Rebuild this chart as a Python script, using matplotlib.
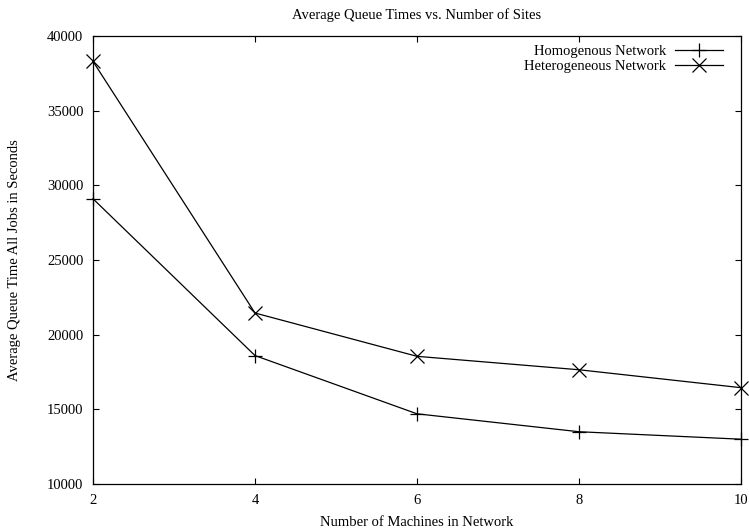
import matplotlib
matplotlib.use("Agg")
import matplotlib.pyplot as plt

machines = [2, 4, 6, 8, 10]
homogenous = [29100, 18600, 14700, 13500, 13000]
heterogeneous = [38300, 21450, 18550, 17650, 16450]
xticks = [2, 4, 6, 8, 10]
yticks = [10000, 15000, 20000, 25000, 30000, 35000, 40000]

W, H = 749, 532
plt.rcParams['font.family'] = ['Liberation Serif', 'DejaVu Serif']
fig = plt.figure(figsize=(W / 100, H / 100), dpi=100)
ax = fig.add_axes([93 / W, 1 - 484 / H, (741 - 93) / W, (484 - 36) / H])

ax.plot(machines, homogenous, color='black', lw=0.9, marker='+', ms=9.5,
        mew=0.9, label='Homogenous Network', clip_on=False)
ax.plot(machines, heterogeneous, color='black', lw=0.9, marker='x', ms=9.5,
        mew=0.9, label='Heterogeneous Network', clip_on=False)

ax.set_xlim(2, 10)
ax.set_ylim(10000, 40000)
ax.set_xticks(xticks)
ax.set_yticks(yticks)
ax.tick_params(direction='in', top=True, right=True, length=4.5, width=0.8,
               labelsize=10.5, pad=7)
for s in ax.spines.values():
    s.set_linewidth(0.9)

ax.set_title('Average Queue Times vs. Number of Sites', fontsize=10.5, pad=12.5)
ax.set_xlabel('Number of Machines in Network', fontsize=10.5, labelpad=7)
fig.text(15 / W, 1 - 260 / H, 'Average Queue Time All Jobs in Seconds',
         rotation=90, ha='center', va='center', fontsize=10.5)

leg = ax.legend(loc='upper right', bbox_to_anchor=(723 / W, 1 - 44.5 / H),
                bbox_transform=fig.transFigure, frameon=False, fontsize=10.5,
                markerfirst=False, handlelength=3.3, handletextpad=0.6,
                borderaxespad=0, borderpad=0, labelspacing=0.12)
for t in leg.get_texts():
    t.set_ha('right')

fig.savefig('out.png', dpi=100)
